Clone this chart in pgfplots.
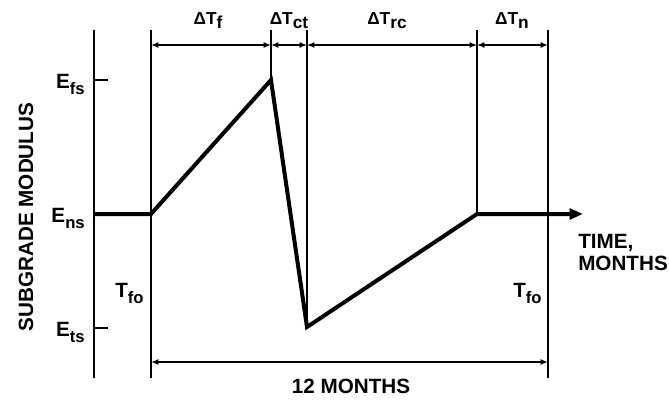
\documentclass[border=0pt]{standalone}
\usepackage{pgfplots}
\pgfplotsset{compat=1.18}
\usepackage{fontspec}
\setmainfont{Liberation Sans}
\usetikzlibrary{arrows.meta}
\newcommand{\sub}[1]{\raisebox{-5pt}{\fontsize{12.5}{14}\selectfont #1}}
\newcommand{\dt}[1]{{\fontsize{13}{15}\selectfont ΔT}\raisebox{-3.5pt}{\fontsize{13}{15}\selectfont #1}}
\begin{document}
\begin{tikzpicture}[font=\fontsize{15.5}{18}\selectfont\bfseries]
\begin{axis}[scale only axis, width=501.75pt, height=300pt,
  xmin=0, xmax=669, ymin=0, ymax=400, y dir=reverse,
  axis lines=none, clip=false]
\path (axis cs:0,0) rectangle (axis cs:669,400);
% y axis and ticks
\addplot[line width=2pt, black] coordinates {(94,30) (94,378)};
\addplot[line width=1.5pt, black] coordinates {(94,80) (108,80)};
\addplot[line width=1.5pt, black] coordinates {(94,328) (108,328)};
% thin vertical lines
\addplot[line width=1pt, black] coordinates {(151,30) (151,378)};
\addplot[line width=1pt, black] coordinates {(271,30) (271,80)};
\addplot[line width=1pt, black] coordinates {(307,30) (307,327)};
\addplot[line width=1pt, black] coordinates {(477,30) (477,214)};
\addplot[line width=1pt, black] coordinates {(548,30) (548,378)};
% dimension arrows
\addplot[line width=1.1pt, black, {Latex[length=5.5pt,width=4.5pt]}-{Latex[length=5.5pt,width=4.5pt]}] coordinates {(151,45) (271,45)};
\addplot[line width=1.1pt, black, {Latex[length=5.5pt,width=4.5pt]}-{Latex[length=5.5pt,width=4.5pt]}] coordinates {(271,45) (307,45)};
\addplot[line width=1.1pt, black, {Latex[length=5.5pt,width=4.5pt]}-{Latex[length=5.5pt,width=4.5pt]}] coordinates {(307,45) (477,45)};
\addplot[line width=1.1pt, black, {Latex[length=5.5pt,width=4.5pt]}-{Latex[length=5.5pt,width=4.5pt]}] coordinates {(477,45) (548,45)};
\addplot[line width=1.1pt, black, {Latex[length=5.5pt,width=4.5pt]}-{Latex[length=5.5pt,width=4.5pt]}] coordinates {(151,362) (548,362)};
% main curve
\addplot[line width=3pt, black, -{Triangle[length=10pt,width=8pt]}] coordinates {(94,214) (151,214) (271,80) (307,327) (477,214) (583,214)};
% labels
\node[anchor=base] at (axis cs:208,24) {\dt{f}};
\node[anchor=base] at (axis cs:289,24) {\dt{ct}};
\node[anchor=base] at (axis cs:387,24) {\dt{rc}};
\node[anchor=base] at (axis cs:512,24) {\dt{n}};
\node[anchor=base east, inner sep=0pt] at (axis cs:85,88) {E\sub{fs}};
\node[anchor=base east, inner sep=0pt] at (axis cs:85,222) {E\sub{ns}};
\node[anchor=base east, inner sep=0pt] at (axis cs:85,336) {E\sub{ts}};
\node[anchor=base west, inner sep=0pt] at (axis cs:115,297) {T\sub{fo}};
\node[anchor=base west, inner sep=0pt] at (axis cs:513,297) {T\sub{fo}};
\node[anchor=base west, inner sep=0pt] at (axis cs:578,248) {TIME,};
\node[anchor=base west, inner sep=0pt] at (axis cs:578,270) {MONTHS};
\node[anchor=base, inner sep=0pt] at (axis cs:351,393) {12 MONTHS};
\node[anchor=base, rotate=90, inner sep=0pt] at (axis cs:33,217) {SUBGRADE MODULUS};
\end{axis}
\end{tikzpicture}
\end{document}
